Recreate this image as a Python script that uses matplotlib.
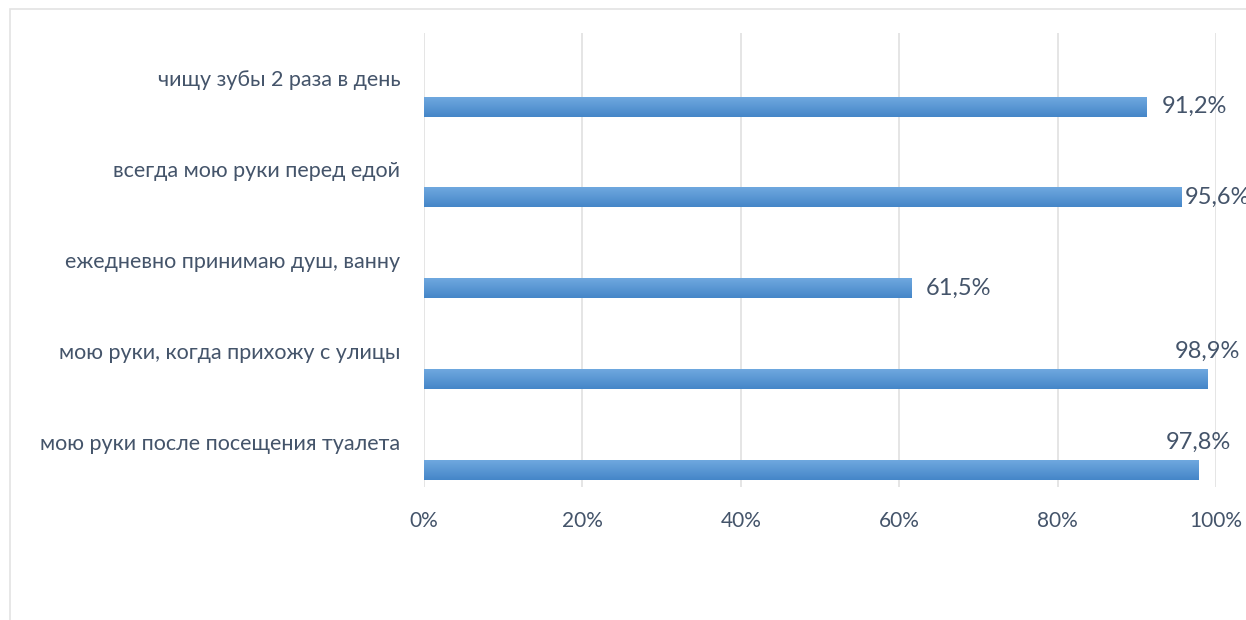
import numpy as np
import matplotlib.pyplot as plt
from matplotlib.patches import Rectangle

# data
categories = ['чищу зубы 2 раза в день',
              'всегда мою руки перед едой',
              'ежедневно принимаю душ, ванну',
              'мою руки, когда прихожу с улицы',
              'мою руки после посещения туалета']
values = [91.2, 95.6, 61.5, 98.9, 97.8]
x_ticks = [0, 20, 40, 60, 80, 100]

text_color = '#44546A'
plt.rcParams['font.family'] = ['Lato', 'DejaVu Sans']

fig = plt.figure(figsize=(12.46, 6.2), dpi=100)
ax = fig.add_axes([0.3403, 0.2145, 0.6356, 0.7323])

# chart border (Excel chart area)
fig.patches.append(Rectangle((10 / 1246, -0.1), 1.2, 1 - 9 / 620 + 0.1,
                             transform=fig.transFigure, fill=False,
                             edgecolor='#E3E3E3', linewidth=1.2))

ypos = np.arange(len(categories))
bar_y = ypos + 0.31
bars = ax.barh(bar_y, values, height=0.22, color='#5B9BD5', zorder=3)

# vertical gradient on each bar
grad = np.linspace(0, 1, 64).reshape(-1, 1)
cmap = plt.matplotlib.colors.LinearSegmentedColormap.from_list('g', ['#6FA8DF', '#4586C8'])
for b in bars:
    x0, y0 = b.get_x(), b.get_y()
    w, h = b.get_width(), b.get_height()
    im = ax.imshow(grad, extent=(x0, x0 + w, y0 + h, y0), cmap=cmap,
                   aspect='auto', zorder=4, interpolation='bicubic')
    im.set_clip_path(b)

for v, y in zip(values, bar_y):
    lbl = f'{v:.1f}%'.replace('.', ',')
    if v > 97:
        ax.annotate(lbl, (v, y), xytext=(0, 20), textcoords='offset points',
                    ha='center', va='center', fontsize=17, color=text_color,
                    annotation_clip=False)
    else:
        ax.text(min(v + 1.9, 96.0), y, lbl, ha='left', va='center',
                fontsize=17, color=text_color)

ax.set_xlim(0, 100)
ax.set_ylim(len(categories) - 0.5, -0.5)
ax.set_xticks(x_ticks)
ax.set_xticklabels([f'{t}%' for t in x_ticks], fontsize=15, color=text_color)
ax.set_yticks(ypos)
ax.set_yticklabels(categories, fontsize=15.5, color=text_color)
ax.tick_params(axis='both', length=0)
ax.tick_params(axis='x', pad=17)
ax.tick_params(axis='y', pad=17)
ax.grid(axis='x', color='#E0E0E0', linewidth=1.2, zorder=0)
ax.set_axisbelow(True)
for s in ax.spines.values():
    s.set_visible(False)

fig.savefig('out.png', dpi=100)
